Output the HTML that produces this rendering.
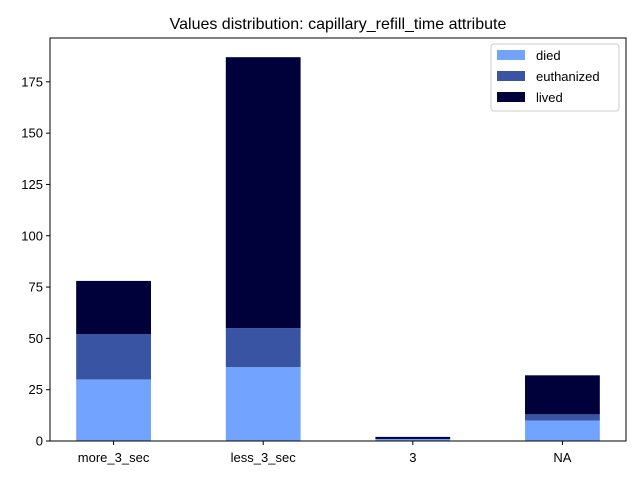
<!DOCTYPE html>
<html><head><meta charset="utf-8"><style>body{margin:0;background:#fff}svg{font-family:"Liberation Sans",sans-serif}</style></head>
<body>
<svg id="chart" width="640" height="480">
<rect x="0" y="0" width="640" height="480" fill="#fff"/>
<text x="338" y="29" font-size="16" text-anchor="middle">Values distribution: capillary_refill_time attribute</text>
<g id="bars"></g>
<g id="axes"></g>
</svg>
<script>
const categories = ["more_3_sec","less_3_sec","3","NA"];
const died = [30,36,1,10];
const euthanized = [22,19,0,3];
const lived = [26,132,1,19];
const yTicks = [0,25,50,75,100,125,150,175];
const seriesNames = ["died","euthanized","lived"];
const colors = ["#72a4ff","#3a54a4","#00003a"];

const L=50,R=626,T=38,B=441;
const totals = categories.map((c,i)=>died[i]+euthanized[i]+lived[i]);
const yMax = Math.max(...totals)*1.05;
const y = v => B - v/yMax*(B-T);
const x0=-0.425, x1=categories.length-1+0.425;
const x = v => L + (v-x0)/(x1-x0)*(R-L);
const bw = 0.5*(R-L)/(x1-x0);
const ns="http://www.w3.org/2000/svg";
const bars=document.getElementById('bars'), axes=document.getElementById('axes');
function mk(tag,attrs,parent){const e=document.createElementNS(ns,tag);for(const k in attrs)e.setAttribute(k,attrs[k]);parent.appendChild(e);return e;}
const series=[died,euthanized,lived];
categories.forEach((c,i)=>{
  let base=0;
  series.forEach((s,j)=>{
    const r=mk('rect',{x:x(i)-bw/2,y:y(base+s[i]),width:bw,height:y(base)-y(base+s[i]),fill:colors[j]},bars);
    
    
    base+=s[i];
  });
  const t=mk('line',{x1:x(i),x2:x(i),y1:B,y2:B+4,stroke:'#000'},axes);
  
  
  const l=mk('text',{x:x(i),y:B+21,'font-size':13,'text-anchor':'middle'},axes);
  l.textContent=c;
  
  
});
yTicks.forEach(v=>{
  const t=mk('line',{x1:L-4,x2:L,y1:y(v),y2:y(v),stroke:'#000'},axes);
  
  
  const l=mk('text',{x:L-7,y:y(v)+4.5,'font-size':13,'text-anchor':'end'},axes);
  l.textContent=v;
  
  
});
const frame=mk('rect',{x:L,y:T,width:R-L,height:B-T,fill:'none',stroke:'#000','stroke-width':1},axes);


const lg=mk('g',{},axes);


mk('rect',{x:491,y:44,width:128,height:67,fill:'#fff',stroke:'#ccc',rx:3},lg);
seriesNames.forEach((n,j)=>{
  const yy=50+j*21;
  const sw=mk('rect',{x:497,y:yy,width:28,height:10,fill:colors[j]},lg);
  
  
  const t=mk('text',{x:536,y:yy+10,'font-size':13},lg);
  t.textContent=n;
  
  
});
</script>
</body></html>
